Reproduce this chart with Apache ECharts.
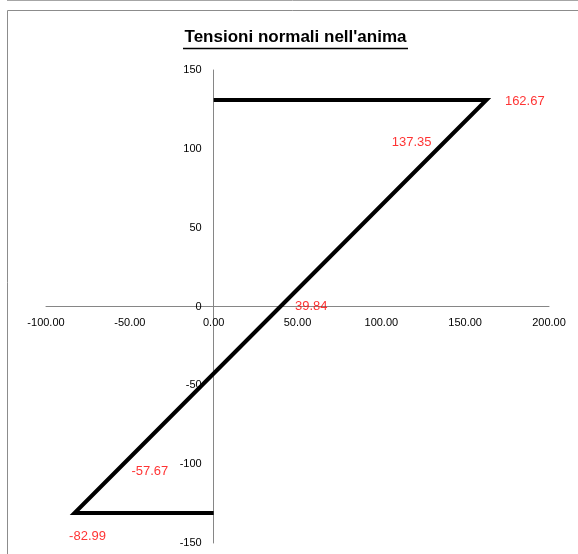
<!DOCTYPE html>
<html><head><meta charset="utf-8">
<script src="https://cdn.jsdelivr.net/npm/echarts@6/dist/echarts.min.js"></script>
<style>html,body{margin:0;padding:0;background:#fff}#c{width:578px;height:554px}</style>
</head><body><div id="c"></div>
<script>
// ---- data ----
const titleText = "Tensioni normali nell'anima";
const stressX = [0, 162.67, 137.35, 39.84, -57.67, -82.99, 0];
const heightY = [131, 131, 104, 0, -104, -131, -131];
const labelledPoints = [1, 2, 3, 4, 5];
const xRange = [-100, 200];
const yRange = [-150, 150];
const tickStep = 50;

// ---- presentation ----
const labelPlacement = {
  1: {position: 'right', distance: 18, offset: [0, 1]},
  2: {position: 'left', distance: 12, offset: [0, 0]},
  3: {position: 'right', distance: 14, offset: [0, 0]},
  4: {position: 'right', distance: 14, offset: [0, 1]},
  5: {position: 'bottom', distance: 16, offset: [13, 0]}
};
const FONT = "'Liberation Sans', Arial, sans-serif";

const linePts = stressX.map((x, i) => [x, heightY[i]]);
const labelPts = labelledPoints.map(i => {
  const p = labelPlacement[i];
  return {
    value: [stressX[i], heightY[i]],
    label: {show: true, position: p.position, distance: p.distance, offset: p.offset}
  };
});

const chart = echarts.init(document.getElementById('c'), null, {renderer: 'canvas'});
const option = {
  animation: false,
  backgroundColor: '#fff',
  grid: {left: 46, right: 29, top: 70, bottom: 11, containLabel: false, outerBoundsMode: 'none'},
  xAxis: {
    type: 'value', min: xRange[0], max: xRange[1], interval: tickStep,
    position: 'bottom', offset: 0,
    splitLine: {show: false},
    axisTick: {show: false},
    axisLine: {show: true, onZero: false, lineStyle: {color: '#868686', width: 1}},
    axisLabel: {color: '#000', fontSize: 11, fontFamily: FONT, margin: 11,
      formatter: v => v.toFixed(2)}
  },
  yAxis: {
    type: 'value', min: yRange[0], max: yRange[1], interval: tickStep,
    position: 'left', offset: 0,
    splitLine: {show: false},
    axisTick: {show: false},
    axisLine: {show: true, onZero: false, lineStyle: {color: '#868686', width: 1}},
    axisLabel: {color: '#000', fontSize: 11, fontFamily: FONT, margin: 12}
  },
  series: [
    {
      type: 'line', data: linePts, symbol: 'none', z: 3,
      lineStyle: {color: '#000', width: 4, join: 'miter', cap: 'butt'}
    },
    {
      type: 'scatter', data: labelPts, symbolSize: 1, z: 4,
      itemStyle: {color: 'rgba(0,0,0,0)'},
      label: {color: '#ff0000', fontSize: 13, fontFamily: FONT,
        formatter: p => p.value[0].toFixed(2)}
    }
  ],
  graphic: [
    {type: 'line', shape: {x1: 7, y1: 0.5, x2: 578, y2: 0.5}, style: {stroke: '#a6a6a6', lineWidth: 1}, silent: true},
    {type: 'polyline', shape: {points: [[7.5, 554], [7.5, 10.5], [578, 10.5]]}, style: {stroke: '#8c8c8c', lineWidth: 1, fill: null}, silent: true},
    {type: 'text', style: {x: 295.5, y: 37, text: titleText, textAlign: 'center', textVerticalAlign: 'middle',
      font: "bold 17px 'Liberation Sans', Arial, sans-serif", fill: '#000'}},
    {type: 'line', shape: {x1: 183, y1: 48.5, x2: 408, y2: 48.5}, style: {stroke: '#000', lineWidth: 1.4}}
  ]
};
chart.setOption(option);
// move axes (with their labels) to cross at zero
const origin = chart.convertToPixel({gridIndex: 0}, [0, 0]);
const gridRect = chart.getModel().getComponent('grid', 0).coordinateSystem.getRect();
chart.setOption({
  xAxis: {offset: -(gridRect.y + gridRect.height - origin[1])},
  yAxis: {offset: -(origin[0] - gridRect.x)}
});
</script></body></html>
